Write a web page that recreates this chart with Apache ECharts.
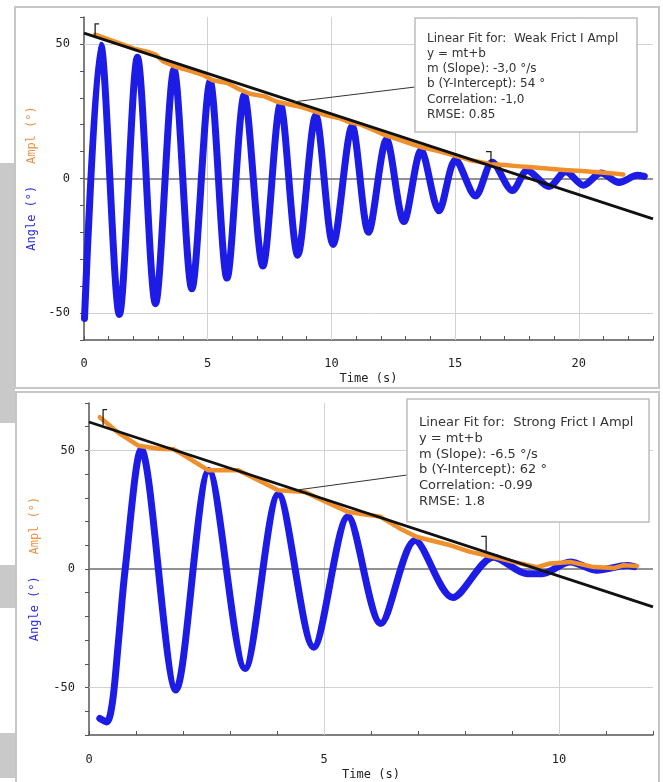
<!DOCTYPE html>
<html>
<head>
<meta charset="utf-8">
<script src="https://cdn.jsdelivr.net/npm/echarts@6/dist/echarts.min.js"></script>
<style>
html, body { margin: 0; padding: 0; background: #fff; }
#main { width: 663px; height: 782px; }
</style>
</head>
<body>
<div id="main"></div>
<script>
// ---- weak friction (top) ----
var weakTime  = [0.02, 0.68, 1.43, 2.16, 2.89, 3.64, 4.36, 5.1, 5.78, 6.48, 7.23, 7.94, 8.64, 9.37, 10.07, 10.84, 11.5, 12.23, 12.93, 13.63, 14.35, 15.02, 15.83, 16.5, 17.32, 17.92, 18.8, 19.47, 20.19, 20.9, 21.63, 22.37, 22.65];
var weakAngle = [-52, 49.5, -50.5, 45, -46.5, 40.5, -41, 36, -37, 31, -32.5, 27.5, -28.5, 23.5, -24.5, 19.5, -20, 14.5, -16, 10.5, -12, 7, -6.5, 6, -4.5, 3, -3, 2.5, -2.5, 2, -1.5, 1.2, 0.8];
var weakAmplTime = [0.45, 0.9, 1.5, 2.1, 2.6, 2.9, 3.2, 3.7, 4.3, 4.8, 5.2, 5.8, 6.2, 6.7, 7.3, 7.8, 8.3, 8.8, 9.3, 9.8, 10.3, 10.7, 11.2, 11.7, 12.2, 12.7, 13.2, 13.7, 14.2, 14.7, 15.2, 15.6, 16.1, 16.5, 17.0, 17.5, 18.1, 18.7, 19.4, 20.1, 20.8, 21.4, 21.8];
var weakAmpl     = [53.5, 52, 50, 48, 47, 46, 43.5, 41.5, 40, 38.5, 36.5, 35.5, 33.5, 31.5, 30.5, 28.5, 27.5, 26.5, 25, 23.5, 22.5, 21, 20, 18, 16, 14.5, 13, 11.5, 10.5, 9.3, 8, 6.8, 6, 5.3, 5, 4.6, 4.2, 3.7, 3.2, 2.8, 2.3, 1.9, 1.5];
var weakFitTime  = [0, 23];
var weakFitValue = [54, -15];
var weakXTicks = [5, 10, 15, 20];
var weakYTicks = [-50, 50];
var weakBox = ['Linear Fit for:  Weak Frict I Ampl', 'y = mt+b', 'm (Slope): -3,0 \u00b0/s', 'b (Y-Intercept): 54 \u00b0', 'Correlation: -1,0', 'RMSE: 0.85'];

// ---- strong friction (bottom) ----
var strongTime  = [0.23, 0.38, 0.5, 0.62, 0.77, 1.11, 1.85, 2.55, 3.32, 4.03, 4.78, 5.51, 6.21, 6.94, 7.74, 8.61, 9.32, 9.64, 10.24, 10.81, 11.45, 11.6];
var strongAngle = [-63, -64.5, -56, -32, 0, 50.5, -51, 41.5, -42, 31.5, -33, 22, -23, 12, -12, 5, -2, -2, 3, -0.5, 1.5, 1];
var strongAmplTime = [0.23, 0.62, 1.05, 1.48, 1.8, 1.98, 2.54, 3.18, 3.39, 4.03, 4.6, 4.88, 5.52, 6.02, 6.2, 6.62, 6.98, 7.69, 8.11, 8.75, 9.18, 9.53, 9.81, 10.24, 10.74, 11.16, 11.38, 11.66];
var strongAmpl     = [64, 57.5, 52, 50.7, 50.5, 48.5, 41.6, 41.6, 39.5, 33.2, 32.5, 29.7, 24, 22.6, 22, 17, 13.5, 10, 7.2, 4.4, 2.3, 0.8, 2.3, 3, 0.8, 0.4, 1.6, 1.3];
var strongFitTime  = [0, 12];
var strongFitValue = [62, -16];
var strongXTicks = [5, 10];
var strongYTicks = [-50, 50];
var strongBox = ['Linear Fit for:  Strong Frict I Ampl', 'y = mt+b', 'm (Slope): -6.5 \u00b0/s', 'b (Y-Intercept): 62 \u00b0', 'Correlation: -0.99', 'RMSE: 1.8'];

// leader line start (on fit line) and fit range brackets, data units
var weakLeader = [8.5, 28.5];
var strongLeader = [4.42, 33.3];
var weakBracket = [[0.45, 53], [16.45, 5.5]];
var strongBracket = [[0.3, 60.5], [8.45, 7]];

var BLUE = '#1c1ce6';
var ORANGE = '#f0902c';
var MONO = 'DejaVu Sans Mono';

function zip(a, b) {
  var out = [];
  for (var i = 0; i < a.length; i++) out.push([a[i], b[i]]);
  return out;
}

function xAxisFor(grid, max, margin, gap) {
  return {
    type: 'value', gridIndex: grid, min: 0, max: max, interval: 1,
    name: 'Time (s)', nameLocation: 'middle', nameGap: gap,
    nameTextStyle: { fontFamily: MONO, fontSize: 12, color: '#222' },
    axisLine: { onZero: false, lineStyle: { color: '#555', width: 1.5 } },
    axisTick: { inside: true, length: 4, lineStyle: { color: '#555' } },
    axisLabel: {
      margin: margin, fontFamily: MONO, fontSize: 12, color: '#222',
      formatter: function (v) { return v % 5 === 0 ? String(v) : ''; }
    },
    splitLine: { show: false }
  };
}

function yAxisFor(grid, lim, gap) {
  return {
    type: 'value', gridIndex: grid, min: -lim, max: lim, interval: 10,
    name: '{a|Angle (\u00b0)}   {b|Ampl (\u00b0)}',
    nameLocation: 'middle', nameRotate: 90, nameGap: gap,
    nameTextStyle: {
      fontFamily: MONO, fontSize: 12,
      rich: {
        a: { color: '#2a2ae0', fontFamily: MONO, fontSize: 12 },
        b: { color: '#ee9040', fontFamily: MONO, fontSize: 12 }
      }
    },
    axisLine: { onZero: false, lineStyle: { color: '#555', width: 1.5 } },
    axisTick: { length: 4, lineStyle: { color: '#555' } },
    axisLabel: {
      margin: 14, fontFamily: MONO, fontSize: 12, color: '#222',
      formatter: function (v) { return v % 50 === 0 ? String(v) : ''; }
    },
    splitLine: { show: false }
  };
}

function gridLines(xs, ys) {
  var d = [];
  xs.forEach(function (v) { d.push({ xAxis: v }); });
  ys.forEach(function (v) { d.push({ yAxis: v }); });
  d.push({ yAxis: 0, lineStyle: { color: '#6e6e6e', width: 1.5 } });
  return {
    silent: true, symbol: 'none', z: 1, animation: false,
    label: { show: false },
    lineStyle: { color: '#d2d2d2', width: 1, type: 'solid' },
    data: d
  };
}

function seriesFor(i, t, ang, at, amp, ft, fv, xs, ys) {
  return [
    {
      type: 'line', xAxisIndex: i, yAxisIndex: i, data: zip(t, ang),
      showSymbol: false, smooth: 0.3, z: 2,
      lineStyle: { color: BLUE, width: 7, cap: 'round', join: 'round' },
      markLine: gridLines(xs, ys)
    },
    {
      type: 'line', xAxisIndex: i, yAxisIndex: i, data: zip(at, amp),
      showSymbol: false, z: 3,
      lineStyle: { color: ORANGE, width: 4.5, cap: 'round', join: 'round' }
    },
    {
      type: 'line', xAxisIndex: i, yAxisIndex: i, data: zip(ft, fv),
      showSymbol: false, z: 4,
      lineStyle: { color: '#111', width: 2.8 }
    }
  ];
}

var chart = echarts.init(document.getElementById('main'), null, { renderer: 'canvas' });

var option = {
  animation: false,
  backgroundColor: '#fff',
  grid: [
    { left: 84, top: 17, width: 569, height: 323 },
    { left: 89, top: 403, width: 564, height: 332 }
  ],
  xAxis: [xAxisFor(0, 23, 18, 33), xAxisFor(1, 12, 19, 34)],
  yAxis: [yAxisFor(0, 60, 46), yAxisFor(1, 70, 48)],
  series: seriesFor(0, weakTime, weakAngle, weakAmplTime, weakAmpl, weakFitTime, weakFitValue, weakXTicks, weakYTicks)
    .concat(seriesFor(1, strongTime, strongAngle, strongAmplTime, strongAmpl, strongFitTime, strongFitValue, strongXTicks, strongYTicks))
};
chart.setOption(option);

function px(g, p) { return chart.convertToPixel({ gridIndex: g }, p); }

function bracket(g, br, h) {
  var a = px(g, br[0]);
  var b = px(g, br[1]);
  var st = { stroke: '#222', lineWidth: 1.3, fill: null };
  return [
    { type: 'polyline', z: 20, shape: { points: [[a[0] + 4, a[1] - h], [a[0], a[1] - h], [a[0], a[1]]] }, style: st },
    { type: 'polyline', z: 20, shape: { points: [[b[0] - 5, b[1] - h], [b[0], b[1] - h], [b[0], b[1] - 1]] }, style: st }
  ];
}

function fitBox(lines, x, y, w, h, lh, fs, dy) {
  return [
    { type: 'rect', z: 30, shape: { x: x, y: y, width: w, height: h },
      style: { fill: '#fff', stroke: '#bdbdbd', lineWidth: 1.5 } },
    { type: 'text', z: 31, x: x + 12, y: y + dy,
      style: { text: lines.join('\n'), font: fs + 'px "DejaVu Sans"', fill: '#333', lineHeight: lh, verticalAlign: 'top' } }
  ];
}

var l1 = px(0, weakLeader);
var l2 = px(1, strongLeader);

var gfx = [
  // page frames and grey screenshot strips
  { type: 'rect', z: -5, shape: { x: 0, y: 163, width: 15, height: 228 }, style: { fill: '#c9c9c9' } },
  { type: 'rect', z: -5, shape: { x: 0, y: 390, width: 15, height: 33 }, style: { fill: '#c9c9c9' } },
  { type: 'rect', z: -5, shape: { x: 0, y: 565, width: 15, height: 43 }, style: { fill: '#c9c9c9' } },
  { type: 'rect', z: -5, shape: { x: 0, y: 733, width: 15, height: 45 }, style: { fill: '#c9c9c9' } },
  { type: 'rect', z: -4, shape: { x: 15, y: 7, width: 644, height: 381 }, style: { fill: 'none', stroke: '#c6c6c6', lineWidth: 2 } },
  { type: 'rect', z: -4, shape: { x: 16, y: 392, width: 643, height: 400 }, style: { fill: 'none', stroke: '#c6c6c6', lineWidth: 2 } },
  // leader lines
  { type: 'line', z: 20, shape: { x1: l1[0], y1: l1[1], x2: 415, y2: 87 }, style: { stroke: '#333', lineWidth: 1 } },
  { type: 'line', z: 20, shape: { x1: l2[0], y1: l2[1], x2: 407, y2: 475 }, style: { stroke: '#333', lineWidth: 1 } }
]
  .concat(bracket(0, weakBracket, 12))
  .concat(bracket(1, strongBracket, 16))
  .concat(fitBox(weakBox, 415, 18, 222, 114, 15.2, 12, 13))
  .concat(fitBox(strongBox, 407, 399, 242, 123, 15.7, 13, 16));

chart.setOption({ graphic: { elements: gfx } });
</script>
</body>
</html>
